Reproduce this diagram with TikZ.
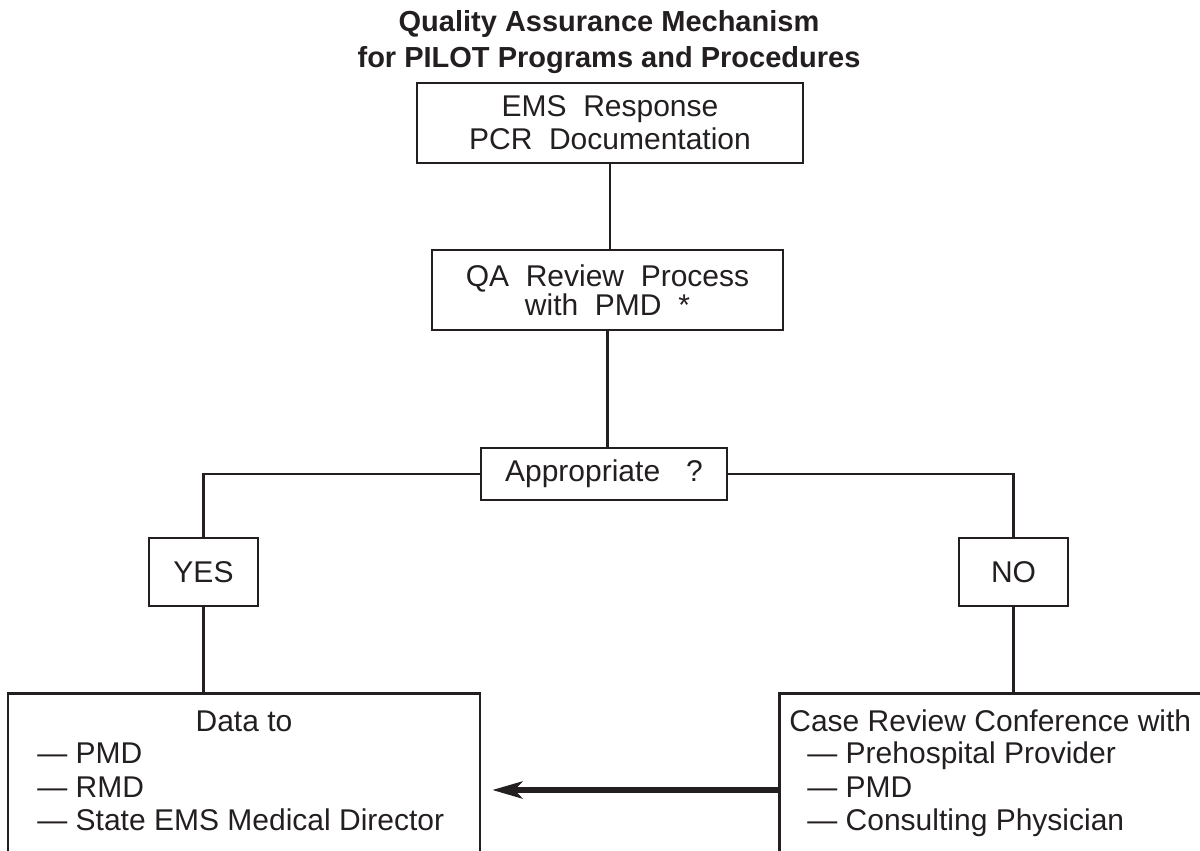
\documentclass[tikz,border=0pt]{standalone}
\usepackage{fontspec}
\setmainfont{Liberation Sans}
\usetikzlibrary{arrows.meta,calc}
\definecolor{ink}{HTML}{231F20}
\begin{document}
\begin{tikzpicture}[x=0.5pt,y=-0.5pt,
  box/.style={draw=ink,line width=1.3pt,text=ink,inner sep=0pt,align=center,font=\fontsize{15}{16.5}\selectfont},
  link/.style={draw=ink,line width=1.3pt},
  txt/.style={text=ink,inner sep=0pt,font=\fontsize{15}{16.5}\selectfont},
  bigarrow/.style={draw=ink,line width=3pt,-{Stealth[length=15pt,width=8.5pt,inset=4pt]}}]
\useasboundingbox (0,0) rectangle (1200,851);
\clip (0,0) rectangle (1200,851);
\node[text=ink,inner sep=0pt,font=\fontsize{14.5}{18}\selectfont\bfseries,align=center] (title) at (609,42) {Quality Assurance Mechanism\\for PILOT Programs and Procedures};
\node[box,minimum width=193pt,minimum height=40pt] (ems) at (610,123) {EMS\ \ Response\\PCR\ \ Documentation};
\node[box,minimum width=175.5pt,minimum height=40pt,font=\fontsize{15}{12.4}\selectfont] (qa) at (607.5,290) {QA\ \ Review\ \ Process\\with\ \ PMD\ \ *};
\node[box,minimum width=123pt,minimum height=26pt] (appr) at (604,474) {Appropriate\hspace{13pt}?};
\node[box,minimum width=54.5pt,minimum height=34pt] (yes) at (203.5,572) {YES};
\node[box,minimum width=54.5pt,minimum height=34pt] (no) at (1013.5,572) {NO};
\node[box,anchor=north,minimum width=236pt,minimum height=100pt] (databox) at (244,692) {};
\node[box,anchor=north west,minimum width=250pt,minimum height=100pt] (casebox) at (778,692) {};
\node[txt,anchor=base] (datahead) at (244,731) {Data to};
\node[txt,anchor=base west] (d1) at (37,763) {— PMD};
\node[txt,anchor=base west] (d2) at (37,797) {— RMD};
\node[txt,anchor=base west] (d3) at (37,830) {— State EMS Medical Director};
\node[txt,anchor=base west] (casehead) at (789,731) {Case Review Conference with};
\node[txt,anchor=base west] (c1) at (807,763) {— Prehospital Provider};
\node[txt,anchor=base west] (c2) at (807,797) {— PMD};
\node[txt,anchor=base west] (c3) at (807,830) {— Consulting Physician};
\draw[link] (ems.south) -- (ems.south |- qa.north);
\draw[link] (qa.south) -- (qa.south |- appr.north);
\draw[link] (appr.west) -| (yes.north);
\draw[link] (appr.east) -| (no.north);
\draw[link] (yes.south) -- (yes.south |- databox.north);
\draw[link] (no.south) -- (no.south |- casebox.north);
\coordinate (arrowlevel) at (0,790);
\draw[bigarrow,shorten >=5.5pt] (casebox.west |- arrowlevel) -- (databox.east |- arrowlevel);
\end{tikzpicture}
\end{document}
